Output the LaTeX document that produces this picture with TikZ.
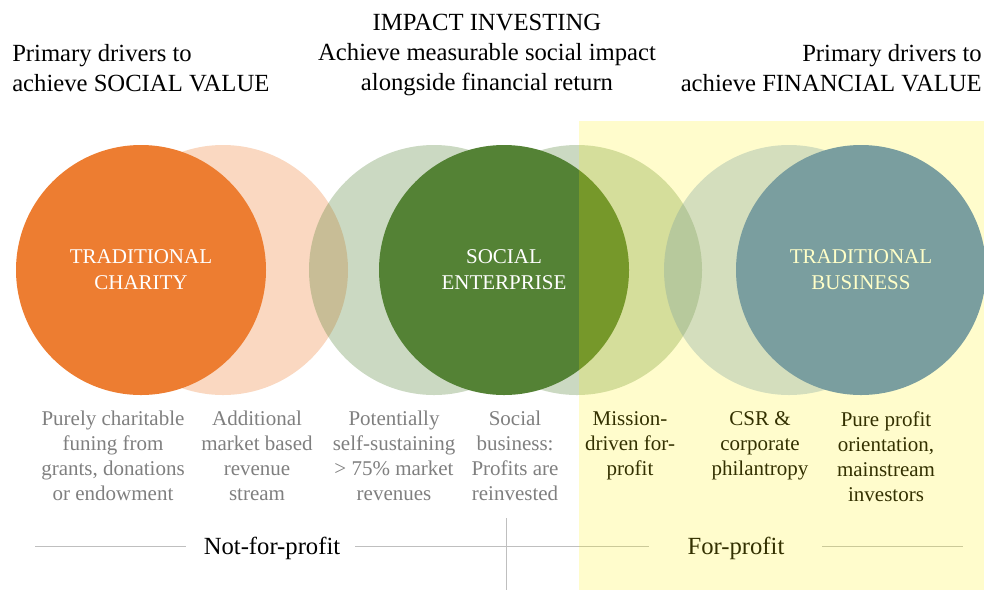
\documentclass[tikz,border=0pt]{standalone}
\usepackage{fontspec}
\setmainfont{Liberation Serif}
\usepackage{xcolor}
\usepackage{tikz}

\definecolor{charity}{HTML}{ED7D31}
\definecolor{enterprise}{HTML}{548235}
\definecolor{business}{HTML}{7A9E9F}
\definecolor{notegray}{HTML}{7F7F7F}
\definecolor{rulegray}{HTML}{BFBFBF}
\definecolor{cream}{HTML}{FFFFC8}

\tikzset{
    disc/.style={circle, minimum size=187.5pt, inner sep=0pt, align=center,
        font=\fontsize{15.75}{19.5}\selectfont},
    faint/.style={disc, fill opacity=0.3},
    note/.style={anchor=north, align=center, inner sep=0pt,
        font=\fontsize{15.75}{18.75}\selectfont},
    head/.style={inner sep=0pt, font=\fontsize{18.5}{22.5}\selectfont},
    rule/.style={draw=rulegray, line width=0.75pt}
}

\begin{document}
\begin{tikzpicture}[x=0.75pt, y=-0.75pt]
    \useasboundingbox (0, 0) rectangle (984, 590);

    \node[head, anchor=west, align=left] (social) at (12, 68) {Primary drivers to\\achieve SOCIAL VALUE};
    \node[head, align=center] (impact) at (487, 55) {IMPACT INVESTING\\Achieve measurable social impact\\alongside financial return};
    \node[head, anchor=east, align=right] (financial) at (982, 68) {Primary drivers to\\achieve FINANCIAL VALUE};

    \node[faint, fill=charity] (extra) at (223, 270) {};
    \node[disc, fill=charity, text=white] (charity) at (141, 270) {TRADITIONAL\\CHARITY};
    \node[faint, fill=enterprise] (selfsust) at (434, 270) {};
    \node[faint, fill=enterprise] (mission) at (577, 270) {};
    \node[disc, fill=enterprise, text=white] (enterprise) at (504, 270) {SOCIAL\\ENTERPRISE};

    \node[note, text=notegray] (n1) at (113, 411) {Purely charitable\\funing from\\grants, donations\\or endowment};
    \node[note, text=notegray] (n2) at (257, 411) {Additional\\market based\\revenue\\stream};
    \node[note, text=notegray] (n3) at (394, 411) {Potentially\\self-sustaining\\> 75\% market\\revenues};
    \node[note, text=notegray] (n4) at (515, 411) {Social\\business:\\Profits are\\reinvested};
    \node[note, text=black] (n5) at (630, 411) {Mission-\\driven for-\\profit};
    \node[note, text=black] (n6) at (760, 411) {CSR \&\\corporate\\philantropy};
    \node[note, text=black] (n7) at (886, 411) {Pure profit\\orientation,\\mainstream\\investors};

    \node[head] (nfp) at (272, 548) {Not-for-profit};
    \node[head] (fp) at (736, 548) {For-profit};
    \coordinate (ruleL) at (35, 546);
    \coordinate (ruleR) at (963, 546);
    \coordinate (divTop) at (506, 518);
    \coordinate (divBot) at (506, 590);
    \draw[rule] (ruleL) -- ([xshift=-13pt]nfp.west |- ruleL);
    \draw[rule] ([xshift=11pt]nfp.east |- ruleL) -- ([xshift=-29pt]fp.west |- ruleL);
    \draw[rule] ([xshift=28pt]fp.east |- ruleR) -- (ruleR);
    \draw[rule] (divTop) -- (divBot);

    \fill[yellow, fill opacity=0.2] (579, 121) rectangle (984, 590);

    \node[disc, fill=business, fill opacity=0.32] (csr) at (789, 270) {};
    \node[disc, fill=business, text=cream] (business) at (861, 270) {TRADITIONAL\\BUSINESS};
\end{tikzpicture}
\end{document}
